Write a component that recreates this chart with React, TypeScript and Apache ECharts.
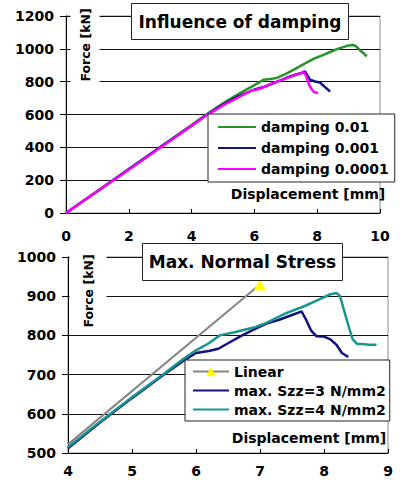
import React, { useEffect, useRef } from "react";
import * as echarts from "echarts";

// ---------- Top chart: Influence of damping ----------
const topXTicks = [0, 2, 4, 6, 8, 10];
const topYTicks = [0, 200, 400, 600, 800, 1000, 1200];
const damping001: [number, number][] = [
  [0, 0], [1, 134], [2, 268], [3, 402], [4, 536], [4.5, 604], [5, 668], [5.5, 726],
  [5.8, 758], [6.1, 790], [6.3, 812], [6.5, 816], [6.7, 822], [7.0, 848], [7.3, 878],
  [7.6, 910], [7.9, 940], [8.2, 963], [8.6, 996], [9.0, 1021], [9.15, 1024],
  [9.25, 1014], [9.4, 985], [9.58, 955],
];
const damping0001: [number, number][] = [
  [0, 0], [1, 133], [2, 266], [3, 400], [4, 532], [4.5, 600], [5, 660], [5.5, 712],
  [6, 752], [6.3, 768], [6.6, 790], [7, 822], [7.3, 842], [7.5, 853], [7.61, 862],
  [7.7, 835], [7.77, 812], [7.93, 801], [8.09, 795], [8.25, 767], [8.41, 740],
];
const damping00001: [number, number][] = [
  [0, 0], [1, 132], [2, 264], [3, 398], [4, 530], [4.5, 598], [5, 655], [5.5, 705],
  [5.9, 745], [6.2, 758], [6.5, 785], [7, 820], [7.3, 840], [7.5, 852], [7.56, 862],
  [7.65, 835], [7.72, 790], [7.8, 760], [7.88, 740], [7.95, 733], [8.03, 732],
];

// ---------- Bottom chart: Max. Normal Stress ----------
const botXTicks = [4, 5, 6, 7, 8, 9];
const botYTicks = [500, 600, 700, 800, 900, 1000];
const linear: [number, number][] = [[4, 522], [7, 930]];
const szz3: [number, number][] = [
  [4, 512], [4.5, 578], [5, 640], [5.5, 700], [5.8, 735], [6, 755], [6.2, 760],
  [6.35, 766], [6.5, 780], [6.7, 798], [6.9, 815], [7.1, 830], [7.3, 840], [7.5, 852],
  [7.6, 858], [7.65, 861], [7.72, 840], [7.8, 812], [7.88, 798], [8.0, 797],
  [8.1, 790], [8.2, 775], [8.28, 755], [8.38, 745],
];
const szz4: [number, number][] = [
  [4, 515], [4.5, 580], [5, 642], [5.5, 702], [5.8, 740], [6, 762], [6.2, 780],
  [6.37, 800], [6.6, 808], [6.9, 820], [7.1, 832], [7.4, 856], [7.7, 875], [7.9, 890],
  [8.1, 905], [8.2, 908], [8.25, 900], [8.32, 860], [8.4, 815], [8.45, 790],
  [8.52, 778], [8.6, 778], [8.7, 776], [8.82, 776],
];

const FONT = "DejaVu Sans";

function axisPair(gridIndex: number, xmin: number, xmax: number, xint: number, ymin: number, ymax: number, yint: number, xMargin: number) {
  const labelStyle = { fontFamily: FONT, fontWeight: "bold" as const, fontSize: 14, color: "#000", formatter: (v: number) => String(v) };
  return {
    x: {
      type: "value", gridIndex, min: xmin, max: xmax, interval: xint,
      axisLine: { show: true, onZero: false, lineStyle: { color: "#000", width: 1 } },
      axisTick: { show: true, inside: true, length: 4, lineStyle: { color: "#000" } },
      axisLabel: { ...labelStyle, margin: xMargin },
      splitLine: { show: false },
    },
    y: {
      type: "value", gridIndex, min: ymin, max: ymax, interval: yint,
      axisLine: { show: true, onZero: false, lineStyle: { color: "#000", width: 1 } },
      axisTick: { show: true, length: 6, lineStyle: { color: "#000" } },
      axisLabel: { ...labelStyle, margin: 12 },
      splitLine: { show: true, lineStyle: { color: "#111", width: 1 } },
    },
  };
}

export default function App() {
  const ref = useRef<HTMLDivElement>(null);
  useEffect(() => {
    if (!ref.current) return;
    const chart = echarts.init(ref.current, null, { renderer: "svg" });
    const a1 = axisPair(0, topXTicks[0], topXTicks[topXTicks.length - 1], 2, topYTicks[0], topYTicks[topYTicks.length - 1], 200, 16);
    const a2 = axisPair(1, botXTicks[0], botXTicks[botXTicks.length - 1], 1, botYTicks[0], botYTicks[botYTicks.length - 1], 100, 11);
    const legendText = { fontFamily: FONT, fontWeight: "bold" as const, fontSize: 14, color: "#000" };
    const lineOnly = (name: string) => ({ name, itemStyle: { opacity: 0 } });
    const txt = (text: string, x: number, y: number, size: number, extra: any = {}) => ({
      type: "text", x, y, z: 100, ...extra,
      style: {
        text, fontFamily: FONT, fontWeight: "bold", fontSize: size, fill: "#000",
        align: "center", verticalAlign: "middle", ...(extra.style || {}),
      },
    });
    chart.setOption({
      animation: false,
      backgroundColor: "#fff",
      grid: [
        { left: 66, top: 16, width: 314, height: 197, show: true, borderColor: "#8a8a8a", borderWidth: 1, backgroundColor: "transparent", outerBoundsMode: "none", containLabel: false },
        { left: 68, top: 257, width: 320, height: 196, show: true, borderColor: "#8a8a8a", borderWidth: 1, backgroundColor: "transparent", outerBoundsMode: "none", containLabel: false },
      ],
      xAxis: [a1.x, a2.x],
      yAxis: [a1.y, a2.y],
      legend: [
        {
          data: [lineOnly("damping 0.01"), lineOnly("damping 0.001"), lineOnly("damping 0.0001")],
          orient: "vertical", left: 208, top: 114, width: 170,
          padding: [4, 6, 4, 9], itemGap: 3, itemWidth: 38, itemHeight: 14,
          backgroundColor: "#fff", borderColor: "#222", borderWidth: 1, borderRadius: 0,
          textStyle: { ...legendText, lineHeight: 18 },
        },
        {
          data: ["Linear", lineOnly("max. Szz=3 N/mm2"), lineOnly("max. Szz=4 N/mm2")],
          orient: "vertical", left: 185, top: 360,
          padding: [3, 4, 3, 7], itemGap: 2, itemWidth: 36, itemHeight: 12,
          backgroundColor: "#fff", borderColor: "#222", borderWidth: 1, borderRadius: 0,
          textStyle: { ...legendText, lineHeight: 17 },
        },
      ],
      series: [
        { name: "damping 0.01", type: "line", xAxisIndex: 0, yAxisIndex: 0, data: damping001, showSymbol: false, symbol: "none", lineStyle: { color: "#2a922a", width: 2.5 }, itemStyle: { color: "#2a922a" } },
        { name: "damping 0.001", type: "line", xAxisIndex: 0, yAxisIndex: 0, data: damping0001, showSymbol: false, symbol: "none", lineStyle: { color: "#12127f", width: 2.5 }, itemStyle: { color: "#12127f" } },
        { name: "damping 0.0001", type: "line", xAxisIndex: 0, yAxisIndex: 0, data: damping00001, showSymbol: false, symbol: "none", lineStyle: { color: "#ff00ff", width: 2.5 }, itemStyle: { color: "#ff00ff" } },
        {
          name: "Linear", type: "line", xAxisIndex: 1, yAxisIndex: 1,
          data: linear.map((p, i) => (i === linear.length - 1 ? { value: p } : { value: p, symbol: "none" })),
          symbol: "triangle", symbolSize: 12, showSymbol: true,
          lineStyle: { color: "#858585", width: 2 }, itemStyle: { color: "#ffff00", borderWidth: 0 },
        },
        { name: "max. Szz=3 N/mm2", type: "line", xAxisIndex: 1, yAxisIndex: 1, data: szz3, showSymbol: false, symbol: "none", lineStyle: { color: "#12127f", width: 2.5 }, itemStyle: { color: "#12127f" } },
        { name: "max. Szz=4 N/mm2", type: "line", xAxisIndex: 1, yAxisIndex: 1, data: szz4, showSymbol: false, symbol: "none", lineStyle: { color: "#17958f", width: 2.5 }, itemStyle: { color: "#17958f" } },
      ],
      graphic: [
        { type: "rect", z: 99, shape: { x: 131.5, y: 3.5, width: 217, height: 36 }, style: { fill: "#fff", stroke: "#222", lineWidth: 1 } },
        txt("Influence of damping", 240, 21.5, 17),
        { type: "rect", z: 99, shape: { x: 142.5, y: 243.5, width: 200, height: 37 }, style: { fill: "#fff", stroke: "#222", lineWidth: 1 } },
        txt("Max. Normal Stress", 242.5, 262, 17),
        txt("Force [kN]", 85, 45, 12.5, { rotation: Math.PI / 2, style: { backgroundColor: "#fff", padding: [8, 3, 8, 3] } }),
        txt("Force [kN]", 88, 291, 12.5, { rotation: Math.PI / 2, style: { backgroundColor: "#fff", padding: [12, 4, 12, 4] } }),
        txt("Displacement [mm]", 308, 194, 14),
        txt("Displacement [mm]", 309, 438, 14),
      ],
    });
    return () => chart.dispose();
  }, []);
  return <div ref={ref} style={{ position: "absolute", left: 0, top: 0, width: 400, height: 480 }} />;
}
